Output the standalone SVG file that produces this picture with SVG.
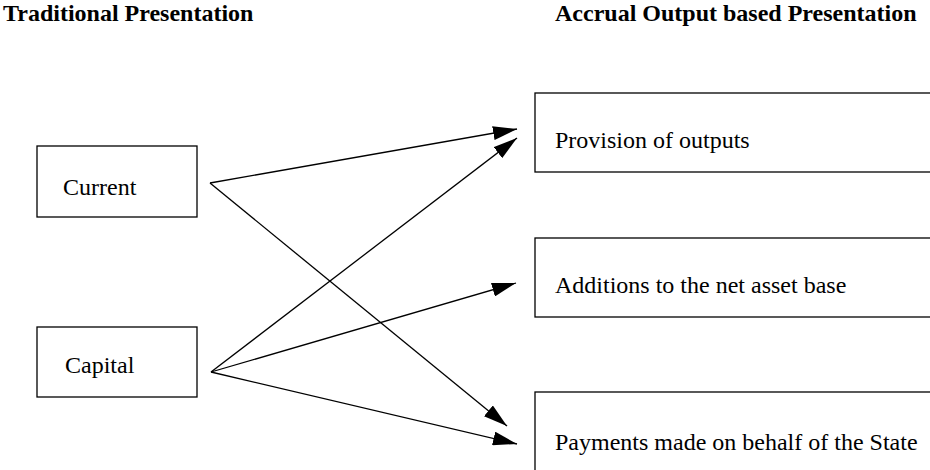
<svg xmlns="http://www.w3.org/2000/svg" width="930" height="470" viewBox="0 0 930 470">
<style>
.h{font-family:"Liberation Serif","Times New Roman",serif;font-weight:bold;font-size:24px;fill:#000}
.t{font-family:"Liberation Serif","Times New Roman",serif;font-size:24px;fill:#000}
.b{fill:#fff;stroke:#000;stroke-width:1.3}
.c{stroke:#000;stroke-width:1.3;fill:none;marker-end:url(#ah)}
</style>
<defs>
<marker id="ah" markerUnits="userSpaceOnUse" markerWidth="24" markerHeight="14" viewBox="0 0 24 14" refX="24" refY="7" orient="auto">
<path d="M0,0 L24,7 L0,14 Z" fill="#000"/>
</marker>
</defs>
<rect width="930" height="470" fill="#fff"/>
<text class="h" x="3" y="21">Traditional Presentation</text>
<text class="h" x="555" y="21">Accrual Output based Presentation</text>
<g id="current"><rect class="b" x="37" y="146" width="160" height="71"/><text class="t" x="63" y="195">Current</text></g>
<g id="capital"><rect class="b" x="37" y="327" width="160" height="70"/><text class="t" x="65" y="373">Capital</text></g>
<g id="provision"><rect class="b" x="535" y="93" width="420" height="79"/><text class="t" x="555" y="148">Provision of outputs</text></g>
<g id="additions"><rect class="b" x="535" y="238" width="420" height="79"/><text class="t" x="555" y="293">Additions to the net asset base</text></g>
<g id="payments"><rect class="b" x="535" y="392" width="420" height="100"/><text class="t" x="555" y="450">Payments made on behalf of the State</text></g>
<g id="connectors">
<line class="c" x1="210" y1="183" x2="517" y2="129"/>
<line class="c" x1="210" y1="183" x2="507" y2="426"/>
<line class="c" x1="211" y1="372" x2="517" y2="138"/>
<line class="c" x1="211" y1="372" x2="516" y2="283"/>
<line class="c" x1="211" y1="372" x2="517" y2="444"/>
</g>
</svg>
